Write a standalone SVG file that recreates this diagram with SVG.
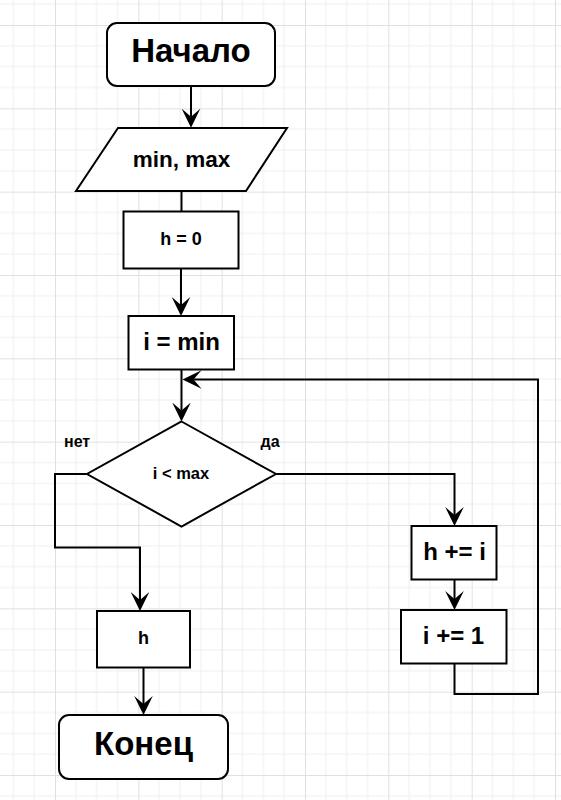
<svg xmlns="http://www.w3.org/2000/svg" width="561" height="800" viewBox="0 0 561 800">
<style>
.shape{fill:#ffffff;stroke:#000000;stroke-width:2}
.edge{fill:none;stroke:#000000;stroke-width:2}
.arr{marker-end:url(#ah)}
text{font-family:"Liberation Sans",Arial,Helvetica,sans-serif;font-weight:bold;fill:#000000;text-anchor:middle}
.lbl{text-anchor:start;font-size:16px}
</style>
<defs>
<pattern id="grid" patternUnits="userSpaceOnUse" width="83.333" height="83.333" patternTransform="translate(55,25)">
<path d="M0,20.833H83.333M0,41.667H83.333M0,62.5H83.333M20.833,0V83.333M41.667,0V83.333M62.5,0V83.333" stroke="#f0f0f0" stroke-width="1" fill="none"/>
<path d="M0,0.5H83.333M0.5,0V83.333" stroke="#e0e0e0" stroke-width="1" fill="none"/>
</pattern>
<marker id="ah" markerUnits="userSpaceOnUse" markerWidth="20" markerHeight="20" refX="8" refY="10" orient="auto" viewBox="0 0 20 20">
<path d="M0,0.7L19,10L0,19.3L8,10Z" fill="#000000"/>
</marker>
</defs>
<rect width="561" height="800" fill="#ffffff"/>
<rect width="561" height="800" fill="url(#grid)"/>
<g id="connectors">
<path class="edge arr" d="M191,86V116.7"/>
<path class="edge" d="M181.5,191V211.5"/>
<path class="edge arr" d="M181,268.5V305"/>
<path class="edge arr" d="M181.5,369.5V410.5"/>
<path class="edge arr" d="M276,474H454.5V515"/>
<path class="edge arr" d="M454.5,579.5V599"/>
<path class="edge arr" d="M454.5,663.5V694H538V379.5H193.5"/>
<path class="edge arr" d="M87,474H55V547.5H140V600"/>
<path class="edge arr" d="M143.5,667.5V704"/>
</g>
<g id="start">
<rect class="shape" x="107" y="23" width="168" height="63" rx="10"/>
<text x="191" y="62" font-size="33">Начало</text>
</g>
<g id="input">
<polygon class="shape" points="118,128 287,128 246,191 76,191"/>
<text x="181.5" y="167" font-size="22.5">min, max</text>
</g>
<g id="h0">
<rect class="shape" x="123.5" y="211.5" width="115" height="57"/>
<text x="181" y="245" font-size="18">h = 0</text>
</g>
<g id="imin">
<rect class="shape" x="128.5" y="316" width="105.5" height="53.5"/>
<text x="181.5" y="350" font-size="24">i = min</text>
</g>
<g id="cond">
<polygon class="shape" points="181.5,421.5 276,474 181.5,526.5 87,474"/>
<text x="181" y="479" font-size="16.5">i &lt; max</text>
</g>
<g id="label-no">
<text class="lbl" x="64" y="447">нет</text>
</g>
<g id="label-yes">
<text class="lbl" x="260.5" y="447">да</text>
</g>
<g id="hadd">
<rect class="shape" x="411.5" y="526" width="85" height="53.5"/>
<text x="454.5" y="560" font-size="24">h += i</text>
</g>
<g id="iinc">
<rect class="shape" x="401" y="610" width="105.5" height="53.5"/>
<text x="453.5" y="644" font-size="24">i += 1</text>
</g>
<g id="out">
<rect class="shape" x="97" y="611" width="93" height="56.5"/>
<text x="143.5" y="644" font-size="18">h</text>
</g>
<g id="end">
<rect class="shape" x="59" y="715" width="169" height="64" rx="10"/>
<text x="143.5" y="755" font-size="33">Конец</text>
</g>
</svg>
